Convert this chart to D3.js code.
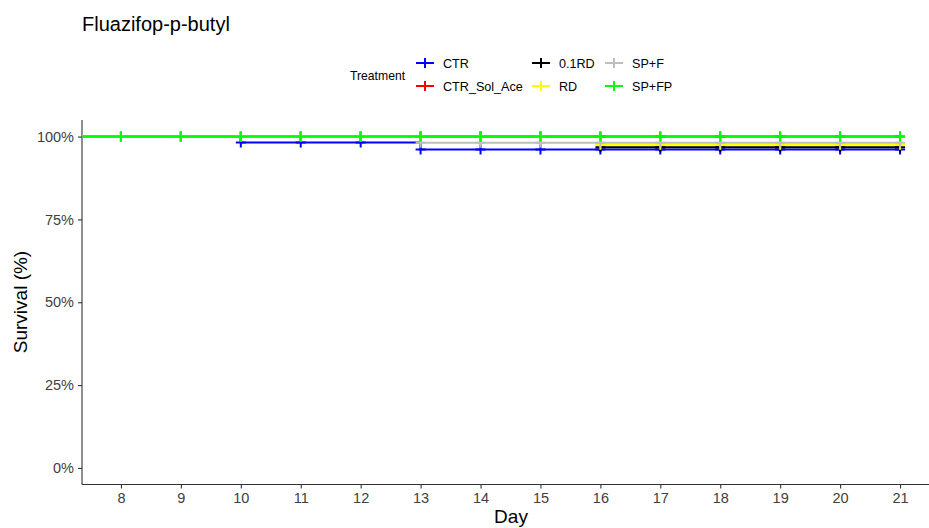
<!DOCTYPE html>
<html>
<head>
<meta charset="utf-8">
<script src="https://cdn.jsdelivr.net/npm/d3@7"></script>
<style>
  body { margin: 0; background: #fff; }
  text { font-family: "Liberation Sans", Arial, sans-serif; }
</style>
</head>
<body>
<div class="canvas"></div>
<script>
// data
const days = [8, 9, 10, 11, 12, 13, 14, 15, 16, 17, 18, 19, 20, 21];
const treatments = ['CTR', 'CTR_Sol_Ace', '0.1RD', 'RD', 'SP+F', 'SP+FP'];
const colours = ['#0000ff', '#ff0000', '#000000', '#ffff00', '#bebebe', '#00ff00'];
const ctr       = [1, 1, 0.982, 0.982, 0.982, 0.961, 0.961, 0.961, 0.961, 0.961, 0.961, 0.961, 0.961, 0.961];
const ctrSolAce = [1, 1, 1, 1, 1, 1, 1, 1, 1, 1, 1, 1, 1, 1];
const rd01      = [1, 1, 1, 1, 1, 1, 1, 1, 0.968, 0.968, 0.968, 0.968, 0.968, 0.968];
const rd        = [1, 1, 1, 1, 1, 1, 1, 1, 0.975, 0.975, 0.975, 0.975, 0.975, 0.975];
const spf       = [1, 1, 1, 1, 1, 0.981, 0.981, 0.981, 0.981, 0.981, 0.981, 0.981, 0.981, 0.981];
const spfp      = [1, 1, 1, 1, 1, 1, 1, 1, 1, 1, 1, 1, 1, 1];
const survival = [ctr, ctrSolAce, rd01, rd, spf, spfp];
const yTicks = [0, 0.25, 0.5, 0.75, 1];

const svg = d3.select('.canvas')
    .append('svg')
    .attr('width', 929)
    .attr('height', 528);

const x = d3.scaleLinear().domain([7.35, 21.65]).range([82, 939]);
const y = d3.scaleLinear().domain([-0.05, 1.05]).range([484.5, 120]);

// title
svg.append('text')
    .attr('x', 82).attr('y', 31)
    .attr('font-size', 20)
    .text('Fluazifop-p-butyl');

// axes
const xAxis = svg.append('g')
    .attr('transform', 'translate(0, 484.5)')
    .call(d3.axisBottom(x).tickValues(days).tickSize(4).tickSizeOuter(0).tickPadding(4));
const yAxis = svg.append('g')
    .attr('transform', 'translate(82, 0)')
    .call(d3.axisLeft(y).tickValues(yTicks).tickFormat(d3.format('.0%')).tickSize(4).tickSizeOuter(0).tickPadding(4));

[xAxis, yAxis].forEach(a => {
    a.select('.domain').attr('stroke', '#333').attr('stroke-width', 1.1);
    a.selectAll('.tick line').attr('stroke', '#333').attr('stroke-width', 1.1);
    a.selectAll('.tick text').attr('font-size', 14.5).attr('fill', '#404040');
});
xAxis.select('.domain').attr('d', 'M82,0H929');
yAxis.select('.domain').attr('d', 'M0,120V484.5');

svg.append('text')
    .attr('x', 511).attr('y', 523)
    .attr('text-anchor', 'middle')
    .attr('font-size', 19)
    .text('Day');

svg.append('text')
    .attr('transform', 'translate(27, 302) rotate(-90)')
    .attr('text-anchor', 'middle')
    .attr('font-size', 19)
    .text('Survival (%)');

// curves
svg.append('clipPath').attr('id', 'panel')
    .append('rect').attr('x', 82).attr('y', 110).attr('width', 860).attr('height', 375);

const graph = svg.append('g').attr('clip-path', 'url(#panel)');

const line = d3.line()
    .x(d => x(d[0]))
    .y(d => y(d[1]))
    .curve(d3.curveStepAfter);

const plus = (g, px, py, col) => {
    g.append('path')
        .attr('d', `M${px - 5},${py}H${px + 5}M${px},${py - 5}V${py + 5}`)
        .attr('stroke', col)
        .attr('stroke-width', 2)
        .attr('fill', 'none');
};

treatments.forEach((t, i) => {
    const pts = [[0, 1]].concat(days.map((d, j) => [d, survival[i][j]]));
    graph.append('path')
        .datum(pts)
        .attr('d', line)
        .attr('fill', 'none')
        .attr('stroke', colours[i])
        .attr('stroke-width', 2);
    days.forEach((d, j) => plus(graph, x(d), y(survival[i][j]), colours[i]));
});

// legend
svg.append('text')
    .attr('x', 350).attr('y', 80)
    .attr('font-size', 12.2)
    .text('Treatment');

const legX = [416, 532, 605];
const legY = [63, 86];
treatments.forEach((t, i) => {
    const col = Math.floor(i / 2), row = i % 2;
    const lx = legX[col], ly = legY[row];
    svg.append('line')
        .attr('x1', lx).attr('x2', lx + 18)
        .attr('y1', ly).attr('y2', ly)
        .attr('stroke', colours[i]).attr('stroke-width', 2);
    plus(svg, lx + 9, ly, colours[i]);
    svg.append('text')
        .attr('x', lx + 27).attr('y', ly + 4.5)
        .attr('font-size', 12.6)
        .text(t);
});
</script>
</body>
</html>
